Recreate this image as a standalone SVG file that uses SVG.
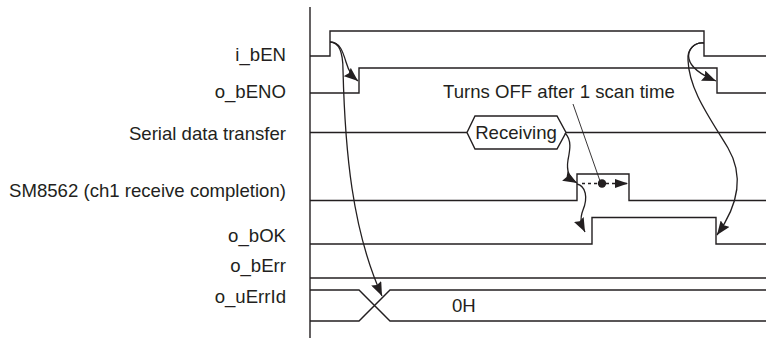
<svg xmlns="http://www.w3.org/2000/svg" width="766" height="338" viewBox="0 0 766 338">
  <style>
    .sig { fill: none; stroke: #231f20; stroke-width: 1.4; }
    .lbl { font-family: "Liberation Sans", Arial, sans-serif; font-size: 18.6px; fill: #231f20; }
    .end { text-anchor: end; }
    .con { fill: none; stroke: #231f20; stroke-width: 1.3; }
    .lead { fill: none; stroke: #231f20; stroke-width: 0.9; }
  </style>
  <defs>
    <marker id="ah" markerUnits="userSpaceOnUse" markerWidth="14" markerHeight="11" refX="14" refY="5.5" orient="auto">
      <path d="M0,0 L14,5.5 L0,11 L2,5.5 z" fill="#231f20"/>
    </marker>
    <marker id="ah2" markerUnits="userSpaceOnUse" markerWidth="13" markerHeight="9" refX="13" refY="4.5" orient="auto">
      <path d="M0,0 L13,4.5 L0,9 z" fill="#231f20"/>
    </marker>
  </defs>
  <rect width="766" height="338" fill="#ffffff"/>

  <g id="axis">
    <path class="sig" d="M310,7 V338"/>
  </g>

  <g id="i_bEN">
    <text class="lbl end" x="286" y="61">i_bEN</text>
    <path class="sig" d="M310,56 H330 V31 H704 V56 H766"/>
  </g>
  <g id="o_bENO">
    <text class="lbl end" x="286" y="98">o_bENO</text>
    <path class="sig" d="M310,93 H359 V68 H717 V93 H766"/>
  </g>
  <g id="serial">
    <text class="lbl end" x="286" y="140">Serial data transfer</text>
    <path class="sig" d="M310,132.5 H467 M566,132.5 H766"/>
    <path class="sig" d="M467,132.5 L475,116 H557 L566,132.5 L557,149 H475 Z"/>
    <text class="lbl" x="516" y="139" text-anchor="middle">Receiving</text>
  </g>
  <g id="sm8562">
    <text class="lbl end" x="286" y="197">SM8562 (ch1 receive completion)</text>
    <path class="sig" d="M310,200.5 H577 V174 H629 V200.5 H766"/>
  </g>
  <g id="o_bOK">
    <text class="lbl end" x="286" y="242">o_bOK</text>
    <path class="sig" d="M310,244 H592 V217.5 H716 V244 H766"/>
  </g>
  <g id="o_bErr">
    <text class="lbl end" x="286" y="272">o_bErr</text>
    <path class="sig" d="M310,278 H766"/>
  </g>
  <g id="o_uErrId">
    <text class="lbl end" x="286" y="303">o_uErrId</text>
    <path class="sig" d="M310,290 H359 L390,321 H766 M310,321 H359 L390,290 H766"/>
    <text class="lbl" x="452" y="312">0H</text>
  </g>
  <g id="note">
    <text class="lbl" x="443" y="98">Turns OFF after 1 scan time</text>
  </g>

  <g id="connectors">
    <path class="con" d="M330,42 C340,42 343,52 346,62 C349,72 352,76 358,81" marker-end="url(#ah)"/>
    <path class="con" d="M330,42 C340,42 343,55 343,70 C345,150 352,230 382,296" marker-end="url(#ah)"/>
    <path class="con" d="M704,43 C694,42 687,50 689,59 C691,68 704,76 716,81" marker-end="url(#ah)"/>
    <path class="con" d="M704,43 C694,42 687,50 688,60 C689,90 710,118 728,148 C742,172 742,200 717,235" marker-end="url(#ah)"/>
    <path class="con" d="M565,133 C572,140 570,150 568,160 C566,172 570,179 577,183" marker-end="url(#ah)"/>
    <path class="con" d="M577,184 C586,186 588,198 583,210 C579,220 582,226 585,232" marker-end="url(#ah)"/>
    <path class="con" d="M582,183.5 H628" stroke-dasharray="3,3" marker-end="url(#ah2)"/>
    <circle cx="602" cy="183.5" r="4.2" fill="#231f20"/>
    <path class="lead" d="M573,104 L600,181"/>
  </g>
</svg>
